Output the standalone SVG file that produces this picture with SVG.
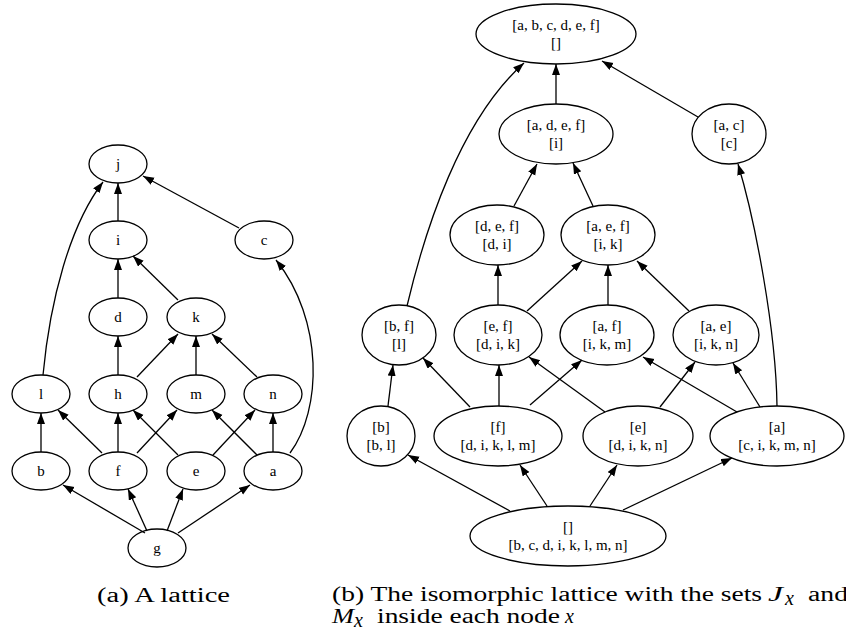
<svg xmlns="http://www.w3.org/2000/svg" width="846" height="637" viewBox="0 0 846 637">
<style>
.n ellipse{fill:none;stroke:#000;stroke-width:1.3}
.n text{font-family:"Liberation Serif","Times New Roman",serif;font-size:15px;text-anchor:middle;fill:#000}
#edges path{fill:none;stroke:#000;stroke-width:1.3;marker-end:url(#ah)}
.cap{font-family:"Liberation Serif","Times New Roman",serif;font-size:20px;fill:#000}
</style>
<defs>
<marker id="ah" markerUnits="userSpaceOnUse" markerWidth="12" markerHeight="9" refX="11" refY="4" orient="auto">
<path d="M0,0 L11,4 L0,8 z" fill="#000"/>
</marker>
</defs>
<rect width="846" height="637" fill="#fff"/>
<g id="edges">
<path d="M118,221 L118,183"/>
<path d="M239,228 L143,176"/>
<path d="M118,298 L118,259"/>
<path d="M178,300 L133,256"/>
<path d="M118,375 L118,336"/>
<path d="M137,377 L178,334"/>
<path d="M196,375 L196,336"/>
<path d="M257,377 L212,334"/>
<path d="M43,375 C50,300 70,225 103,182"/>
<path d="M41,452 L41,413"/>
<path d="M102,453 L58,410"/>
<path d="M118,452 L118,413"/>
<path d="M137,453 L177,410"/>
<path d="M178,455 L133,410"/>
<path d="M213,455 L255,410"/>
<path d="M257,455 L212,410"/>
<path d="M273,452 L273,413"/>
<path d="M290,453 C322,410 324,320 276,260"/>
<path d="M145,533 L63,485"/>
<path d="M147,531 L128,489"/>
<path d="M167,531 L183,489"/>
<path d="M178,533 L250,485"/>
<path d="M556,104 L556,64"/>
<path d="M698,117 L602,61"/>
<path d="M407,306 C425,230 460,120 524,63"/>
<path d="M514,206 L537,164"/>
<path d="M593,206 L573,163"/>
<path d="M777,406 C776,330 755,220 738,164"/>
<path d="M498,305 L498,265"/>
<path d="M527,311 L582,261"/>
<path d="M608,305 L608,265"/>
<path d="M689,311 L637,261"/>
<path d="M388,406 L393,365"/>
<path d="M470,407 L423,358"/>
<path d="M499,406 L499,365"/>
<path d="M530,405 L582,360"/>
<path d="M605,412 L529,357"/>
<path d="M660,407 L695,362"/>
<path d="M737,412 L643,357"/>
<path d="M760,407 L733,363"/>
<path d="M510,511 L408,455"/>
<path d="M547,506 L520,465"/>
<path d="M590,506 L617,465"/>
<path d="M623,510 L732,458"/>
</g>
<g id="L_j" class="n"><ellipse cx="118" cy="164" rx="29" ry="19"/><text x="118" y="169">j</text></g>
<g id="L_i" class="n"><ellipse cx="118" cy="240" rx="29" ry="19"/><text x="118" y="245">i</text></g>
<g id="L_c" class="n"><ellipse cx="264" cy="240" rx="29" ry="19"/><text x="264" y="245">c</text></g>
<g id="L_d" class="n"><ellipse cx="118" cy="317" rx="29" ry="19"/><text x="118" y="322">d</text></g>
<g id="L_k" class="n"><ellipse cx="196" cy="317" rx="29" ry="19"/><text x="196" y="322">k</text></g>
<g id="L_l" class="n"><ellipse cx="41" cy="394" rx="29" ry="19"/><text x="41" y="399">l</text></g>
<g id="L_h" class="n"><ellipse cx="118" cy="394" rx="29" ry="19"/><text x="118" y="399">h</text></g>
<g id="L_m" class="n"><ellipse cx="196" cy="394" rx="29" ry="19"/><text x="196" y="399">m</text></g>
<g id="L_n" class="n"><ellipse cx="273" cy="394" rx="29" ry="19"/><text x="273" y="399">n</text></g>
<g id="L_b" class="n"><ellipse cx="41" cy="471" rx="29" ry="19"/><text x="41" y="476">b</text></g>
<g id="L_f" class="n"><ellipse cx="118" cy="471" rx="29" ry="19"/><text x="118" y="476">f</text></g>
<g id="L_e" class="n"><ellipse cx="196" cy="471" rx="29" ry="19"/><text x="196" y="476">e</text></g>
<g id="L_a" class="n"><ellipse cx="273" cy="471" rx="29" ry="19"/><text x="273" y="476">a</text></g>
<g id="L_g" class="n"><ellipse cx="157" cy="548" rx="29" ry="19"/><text x="157" y="553">g</text></g>
<g id="R_top" class="n"><ellipse cx="556" cy="34" rx="80" ry="30"/><text x="556" y="30">[a, b, c, d, e, f]</text><text x="556" y="48">[]</text></g>
<g id="R_adef" class="n"><ellipse cx="556" cy="134" rx="57" ry="30"/><text x="556" y="130">[a, d, e, f]</text><text x="556" y="148">[i]</text></g>
<g id="R_ac" class="n"><ellipse cx="729" cy="134" rx="37" ry="30"/><text x="729" y="130">[a, c]</text><text x="729" y="148">[c]</text></g>
<g id="R_def" class="n"><ellipse cx="497" cy="235" rx="47" ry="30"/><text x="497" y="231">[d, e, f]</text><text x="497" y="249">[d, i]</text></g>
<g id="R_aef" class="n"><ellipse cx="608" cy="235" rx="47" ry="30"/><text x="608" y="231">[a, e, f]</text><text x="608" y="249">[i, k]</text></g>
<g id="R_bf" class="n"><ellipse cx="399" cy="335" rx="37" ry="30"/><text x="399" y="331">[b, f]</text><text x="399" y="349">[l]</text></g>
<g id="R_ef" class="n"><ellipse cx="498" cy="335" rx="44" ry="30"/><text x="498" y="331">[e, f]</text><text x="498" y="349">[d, i, k]</text></g>
<g id="R_af" class="n"><ellipse cx="607" cy="335" rx="47" ry="30"/><text x="607" y="331">[a, f]</text><text x="607" y="349">[i, k, m]</text></g>
<g id="R_ae" class="n"><ellipse cx="716" cy="335" rx="43" ry="30"/><text x="716" y="331">[a, e]</text><text x="716" y="349">[i, k, n]</text></g>
<g id="R_b" class="n"><ellipse cx="381" cy="436" rx="34" ry="30"/><text x="381" y="432">[b]</text><text x="381" y="450">[b, l]</text></g>
<g id="R_f" class="n"><ellipse cx="498" cy="436" rx="64" ry="30"/><text x="498" y="432">[f]</text><text x="498" y="450">[d, i, k, l, m]</text></g>
<g id="R_e" class="n"><ellipse cx="638" cy="436" rx="55" ry="30"/><text x="638" y="432">[e]</text><text x="638" y="450">[d, i, k, n]</text></g>
<g id="R_a" class="n"><ellipse cx="777" cy="436" rx="67" ry="30"/><text x="777" y="432">[a]</text><text x="777" y="450">[c, i, k, m, n]</text></g>
<g id="R_bot" class="n"><ellipse cx="568" cy="536" rx="98" ry="30"/><text x="568" y="532">[]</text><text x="568" y="550">[b, c, d, i, k, l, m, n]</text></g>
<g id="captions">
<text class="cap" x="97" y="602" textLength="133" lengthAdjust="spacingAndGlyphs">(a) A lattice</text>
<text class="cap" x="332" y="601" textLength="430" lengthAdjust="spacingAndGlyphs">(b) The isomorphic lattice with the sets</text>
<text class="cap" x="768" y="601" font-style="italic" textLength="15" lengthAdjust="spacingAndGlyphs">J</text>
<text class="cap" x="785" y="605" font-style="italic" font-size="14">x</text>
<text class="cap" x="808" y="601" textLength="40" lengthAdjust="spacingAndGlyphs">and</text>
<text class="cap" x="332" y="623" font-style="italic" textLength="22" lengthAdjust="spacingAndGlyphs">M</text>
<text class="cap" x="354" y="627" font-style="italic" font-size="14">x</text>
<text class="cap" x="377" y="623" textLength="183" lengthAdjust="spacingAndGlyphs">inside each node</text>
<text class="cap" x="565" y="623" font-style="italic">x</text>
</g>
</svg>
